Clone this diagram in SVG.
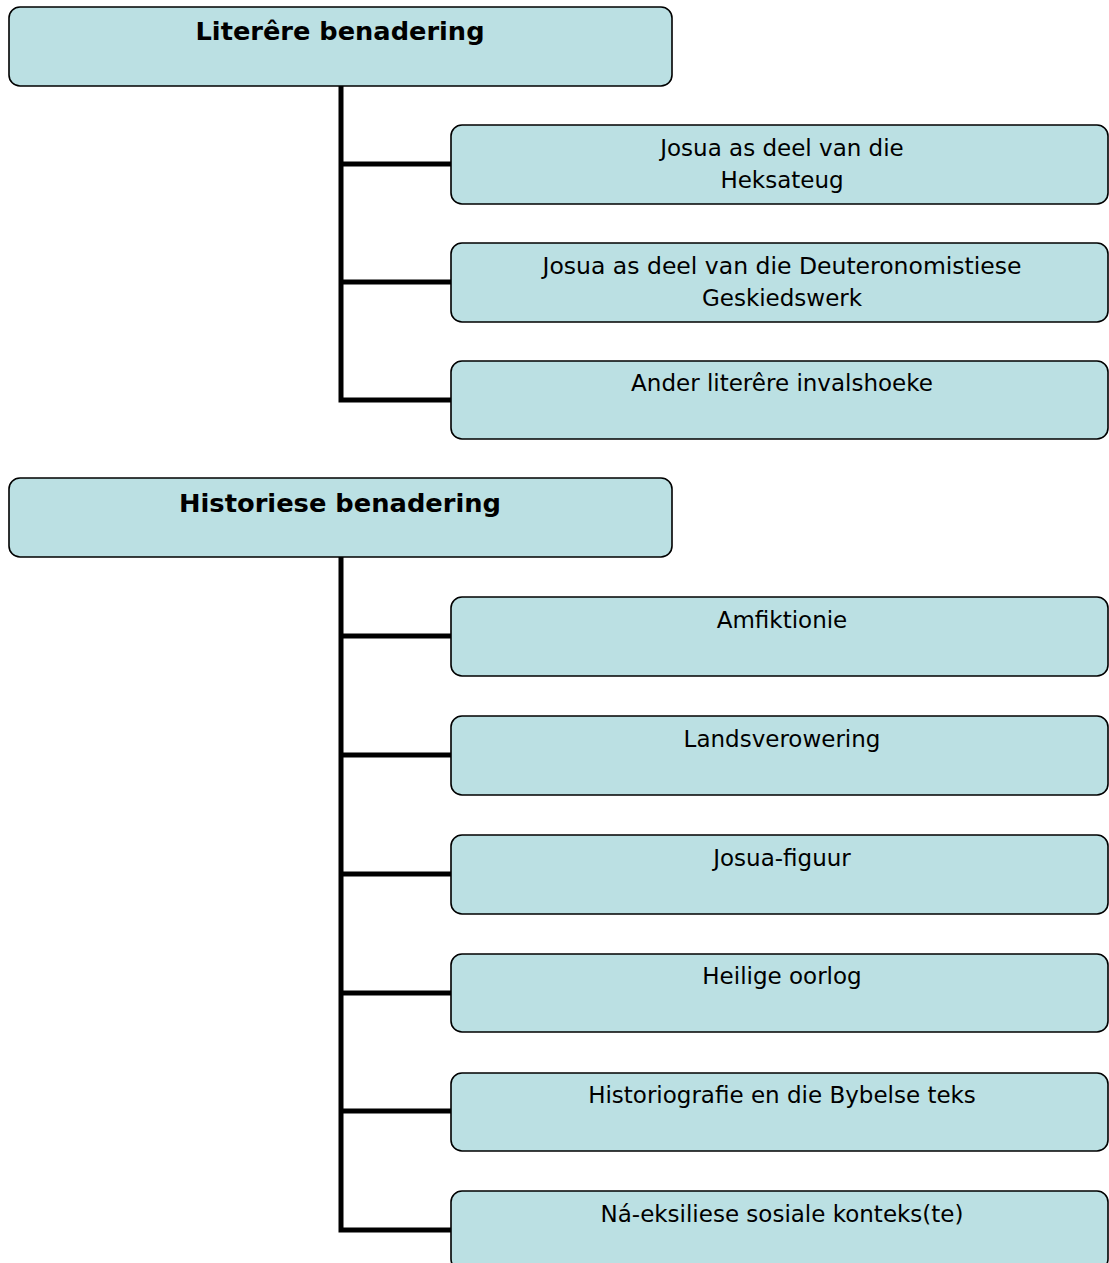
<svg xmlns="http://www.w3.org/2000/svg" width="1109" height="1263" viewBox="0 0 1109 1263">
<style>
.box{fill:#bbe0e3;stroke:#000;stroke-width:1.6}
.hd{font-family:"DejaVu Sans",Verdana,sans-serif;font-weight:bold;font-size:25px;text-anchor:middle;fill:#000}
.tx{font-family:"DejaVu Sans",Verdana,sans-serif;font-size:23px;text-anchor:middle;fill:#000}
.ln{stroke:#000;stroke-width:5;fill:none}
</style>
<g id="connectors">
<path class="ln" d="M341,86 V400 H451 M341,164 H451 M341,282 H451"/>
<path class="ln" d="M341,557 V1230 H451 M341,636 H451 M341,755 H451 M341,874 H451 M341,993 H451 M341,1111 H451"/>
</g>
<g id="n1"><rect class="box" x="9" y="7" width="663" height="79" rx="11"/><text class="hd" x="340" y="40" textLength="289" lengthAdjust="spacingAndGlyphs">Literêre benadering</text></g>
<g id="n2"><rect class="box" x="451" y="125" width="657" height="79" rx="11"/><text class="tx" x="782" y="156">Josua as deel van die</text><text class="tx" x="782" y="188">Heksateug</text></g>
<g id="n3"><rect class="box" x="451" y="243" width="657" height="79" rx="11"/><text class="tx" x="782" y="274" textLength="479" lengthAdjust="spacingAndGlyphs">Josua as deel van die Deuteronomistiese</text><text class="tx" x="782" y="306">Geskiedswerk</text></g>
<g id="n4"><rect class="box" x="451" y="361" width="657" height="78" rx="11"/><text class="tx" x="782" y="391">Ander literêre invalshoeke</text></g>
<g id="n5"><rect class="box" x="9" y="478" width="663" height="79" rx="11"/><text class="hd" x="340" y="512" textLength="322" lengthAdjust="spacingAndGlyphs">Historiese benadering</text></g>
<g id="n6"><rect class="box" x="451" y="597" width="657" height="79" rx="11"/><text class="tx" x="782" y="628">Amfiktionie</text></g>
<g id="n7"><rect class="box" x="451" y="716" width="657" height="79" rx="11"/><text class="tx" x="782" y="747">Landsverowering</text></g>
<g id="n8"><rect class="box" x="451" y="835" width="657" height="79" rx="11"/><text class="tx" x="782" y="866">Josua-figuur</text></g>
<g id="n9"><rect class="box" x="451" y="954" width="657" height="78" rx="11"/><text class="tx" x="782" y="984">Heilige oorlog</text></g>
<g id="n10"><rect class="box" x="451" y="1073" width="657" height="78" rx="11"/><text class="tx" x="782" y="1103">Historiografie en die Bybelse teks</text></g>
<g id="n11"><rect class="box" x="451" y="1191" width="657" height="79" rx="11"/><text class="tx" x="782" y="1222">Ná-eksiliese sosiale konteks(te)</text></g>
</svg>
